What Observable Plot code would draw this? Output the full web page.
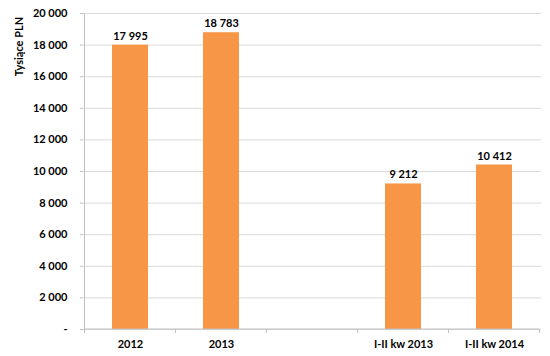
<!DOCTYPE html>
<html>
<head>
<meta charset="utf-8">
<script src="https://cdn.jsdelivr.net/npm/d3@7"></script>
<script src="https://cdn.jsdelivr.net/npm/@observablehq/plot@0.6"></script>
<style>
  html, body { margin: 0; padding: 0; background: #fff; }
</style>
</head>
<body>
<div id="chart"></div>
<script>
const categories = ["2012", "2013", " ", "I-II kw 2013", "I-II kw 2014"];
const barCategories = ["2012", "2013", "I-II kw 2013", "I-II kw 2014"];
const values = [17995, 18783, 9212, 10412];
const yTicks = [0, 2000, 4000, 6000, 8000, 10000, 12000, 14000, 16000, 18000, 20000];
const yLabel = "Tysiące PLN";

const data = barCategories.map((c, i) => ({cat: c, value: values[i]}));
const fmt = d3.formatLocale({thousands: " ", grouping: [3], decimal: ","}).format(",d");

function boundaryMark(index, scales, values, dimensions) {
  const x = scales.x, y = scales.y;
  const bw = typeof x.bandwidth === "function" ? x.bandwidth() : x.bandwidth;
  const step = x(categories[1]) - x(categories[0]);
  const gap = (step - bw) / 2;
  const y0 = y(0);
  const g = d3.create("svg:g");
  const xs = categories.map(c => x(c) - gap);
  xs.push(x(categories[categories.length - 1]) + bw + gap);
  for (const xv of xs) {
    g.append("line").attr("x1", xv).attr("x2", xv).attr("y1", y0).attr("y2", y0 + 4)
      .attr("stroke", "#bfbfbf");
  }
  // baseline and left axis line
  g.append("line").attr("x1", xs[0]).attr("x2", xs[xs.length - 1]).attr("y1", y0).attr("y2", y0)
    .attr("stroke", "#bfbfbf");
  g.append("line").attr("x1", xs[0]).attr("x2", xs[0]).attr("y1", y(yTicks[yTicks.length - 1])).attr("y2", y0)
    .attr("stroke", "#bfbfbf");
  return g.node();
}

const chart = Plot.plot({
  width: 550,
  height: 356,
  marginLeft: 83,
  marginRight: 9,
  marginTop: 13,
  marginBottom: 27,
  style: {fontFamily: "Lato, 'Open Sans', sans-serif", fontWeight: "bold", fontSize: "11px", color: "#000", background: "#fff"},
  x: {
    domain: categories,
    paddingInner: 0.6,
    paddingOuter: 0.3,
    tickSize: 0,
    tickPadding: 11,
    tickFormat: d => d.trim(),
    label: null
  },
  y: {
    domain: [0, 20000],
    ticks: yTicks,
    tickSize: 3,
    tickPadding: 13,
    tickFormat: d => d === 0 ? "-" : fmt(d),
    label: null
  },
  marks: [
    Plot.ruleY(yTicks, {stroke: "#d9d9d9", strokeWidth: 1}),
    Plot.barY(data, {x: "cat", y: "value", fill: "#F79646"}),
    Plot.text(data, {x: "cat", y: "value", text: d => fmt(d.value), dy: -9, fill: "#000", fontSize: 11, fontWeight: "bold"}),
    boundaryMark,
    Plot.text([yLabel], {frameAnchor: "top-left", dx: -68, dy: 33, rotate: -90, textAnchor: "middle", fill: "#000", fontSize: 11, fontWeight: "bold"})
  ]
});

// style y axis tick lines gray
d3.select(chart).selectAll("[aria-label='y-axis'] line, [aria-label='y-axis tick'] path, [aria-label='y-axis tick'] line").attr("stroke", "#bfbfbf");
document.getElementById("chart").appendChild(chart);
</script>
</body>
</html>
